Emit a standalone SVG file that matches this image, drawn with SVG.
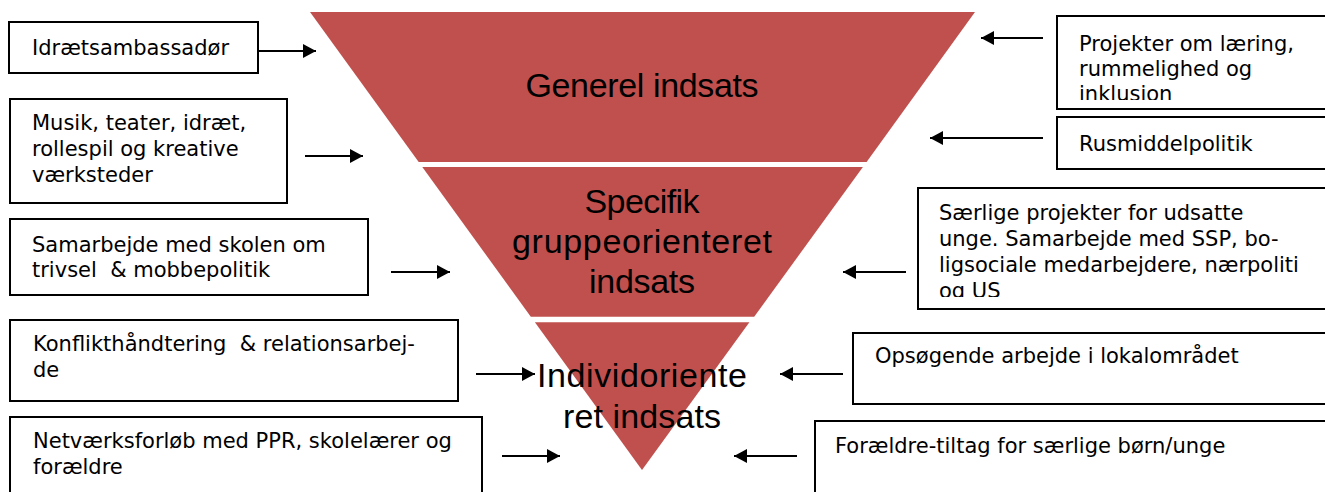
<svg xmlns="http://www.w3.org/2000/svg" width="1325" height="492" viewBox="0 0 1325 492">
<style>
.box{fill:#fff;stroke:#000;stroke-width:2}
.t{font-family:"DejaVu Sans","Liberation Sans",sans-serif;font-size:21px;fill:#000}
.f{fill:#C0504D}
.ft{font-family:"Liberation Sans",Arial,sans-serif;font-size:34px;fill:#000;text-anchor:middle}
.c{stroke:#000;stroke-width:2;fill:none;marker-end:url(#ah)}
</style>
<defs>
<marker id="ah" markerUnits="userSpaceOnUse" markerWidth="14" markerHeight="14" refX="13" refY="7" orient="auto">
<path d="M0,0 L13,7 L0,14 z" fill="#000"/>
</marker>
<clipPath id="clipR1"><rect x="1057" y="16" width="280" height="84"/></clipPath>
<clipPath id="clipR3"><rect x="918" y="188" width="420" height="109"/></clipPath>
</defs>
<rect width="1325" height="492" fill="#fff"/>

<g id="funnel-generel">
<polygon class="f" points="310,12 975,12 866.6,162 418.7,162"/>
<text class="ft" x="642" y="97" textLength="233">Generel indsats</text>
</g>
<g id="funnel-specifik">
<polygon class="f" points="422.3,167 862.9,167 754.2,316.7 530.8,316.7"/>
<text class="ft" x="642" y="213" textLength="115">Specifik</text>
<text class="ft" x="642" y="253" textLength="260">gruppeorienteret</text>
<text class="ft" x="642" y="293" textLength="106">indsats</text>
</g>
<g id="funnel-individ">
<polygon class="f" points="534.9,322.3 749.4,322.3 642,470"/>
<text class="ft" x="642" y="387" textLength="210">Individoriente</text>
<text class="ft" x="642" y="428" textLength="158">ret indsats</text>
</g>

<g id="box-idraetsambassador">
<rect class="box" x="9" y="22" width="249" height="51"/>
<text class="t" x="32" y="55">Idrætsambassadør</text>
</g>
<g id="box-musik">
<rect class="box" x="10" y="99" width="277" height="104"/>
<text class="t" x="32" y="130">Musik, teater, idræt,</text>
<text class="t" x="32" y="156">rollespil og kreative</text>
<text class="t" x="32" y="182">værksteder</text>
</g>
<g id="box-samarbejde">
<rect class="box" x="10" y="219" width="358" height="76"/>
<text class="t" x="32" y="252">Samarbejde med skolen om</text>
<text class="t" x="32" y="277" xml:space="preserve">trivsel  &amp; mobbepolitik</text>
</g>
<g id="box-konflikt">
<rect class="box" x="10" y="320" width="448" height="81"/>
<text class="t" x="33" y="351" xml:space="preserve">Konflikthåndtering  &amp; relationsarbej-</text>
<text class="t" x="33" y="377">de</text>
</g>
<g id="box-netvaerk">
<rect class="box" x="10" y="417" width="472" height="90"/>
<text class="t" x="33" y="448">Netværksforløb med PPR, skolelærer og</text>
<text class="t" x="33" y="474">forældre</text>
</g>

<g id="box-projekter">
<rect class="box" x="1057" y="16" width="280" height="93"/>
<g clip-path="url(#clipR1)">
<text class="t" x="1079" y="51">Projekter om læring,</text>
<text class="t" x="1079" y="76">rummelighed og</text>
<text class="t" x="1079" y="101">inklusion</text>
</g>
</g>
<g id="box-rusmiddel">
<rect class="box" x="1057" y="117" width="280" height="52"/>
<text class="t" x="1079" y="151">Rusmiddelpolitik</text>
</g>
<g id="box-saerlige">
<rect class="box" x="918" y="188" width="420" height="121"/>
<g clip-path="url(#clipR3)">
<text class="t" x="939" y="220">Særlige projekter for udsatte</text>
<text class="t" x="939" y="246">unge. Samarbejde med SSP, bo-</text>
<text class="t" x="939" y="272">ligsociale medarbejdere, nærpoliti</text>
<text class="t" x="939" y="298">og US</text>
</g>
</g>
<g id="box-opsogende">
<rect class="box" x="853" y="333" width="485" height="71"/>
<text class="t" x="875" y="363">Opsøgende arbejde i lokalområdet</text>
</g>
<g id="box-foraeldre">
<rect class="box" x="815" y="421" width="520" height="90"/>
<text class="t" x="835" y="453">Forældre-tiltag for særlige børn/unge</text>
</g>

<g id="connectors">
<line class="c" x1="258" y1="51" x2="316" y2="51"/>
<line class="c" x1="305" y1="156" x2="363" y2="156"/>
<line class="c" x1="391" y1="272" x2="450" y2="272"/>
<line class="c" x1="476" y1="374" x2="535" y2="374"/>
<line class="c" x1="502" y1="456" x2="560" y2="456"/>
<line class="c" x1="1043" y1="38" x2="981" y2="38"/>
<line class="c" x1="1043" y1="138" x2="930" y2="138"/>
<line class="c" x1="906" y1="272" x2="843" y2="272"/>
<line class="c" x1="843" y1="374" x2="780" y2="374"/>
<line class="c" x1="797" y1="456" x2="734" y2="456"/>
</g>
</svg>
